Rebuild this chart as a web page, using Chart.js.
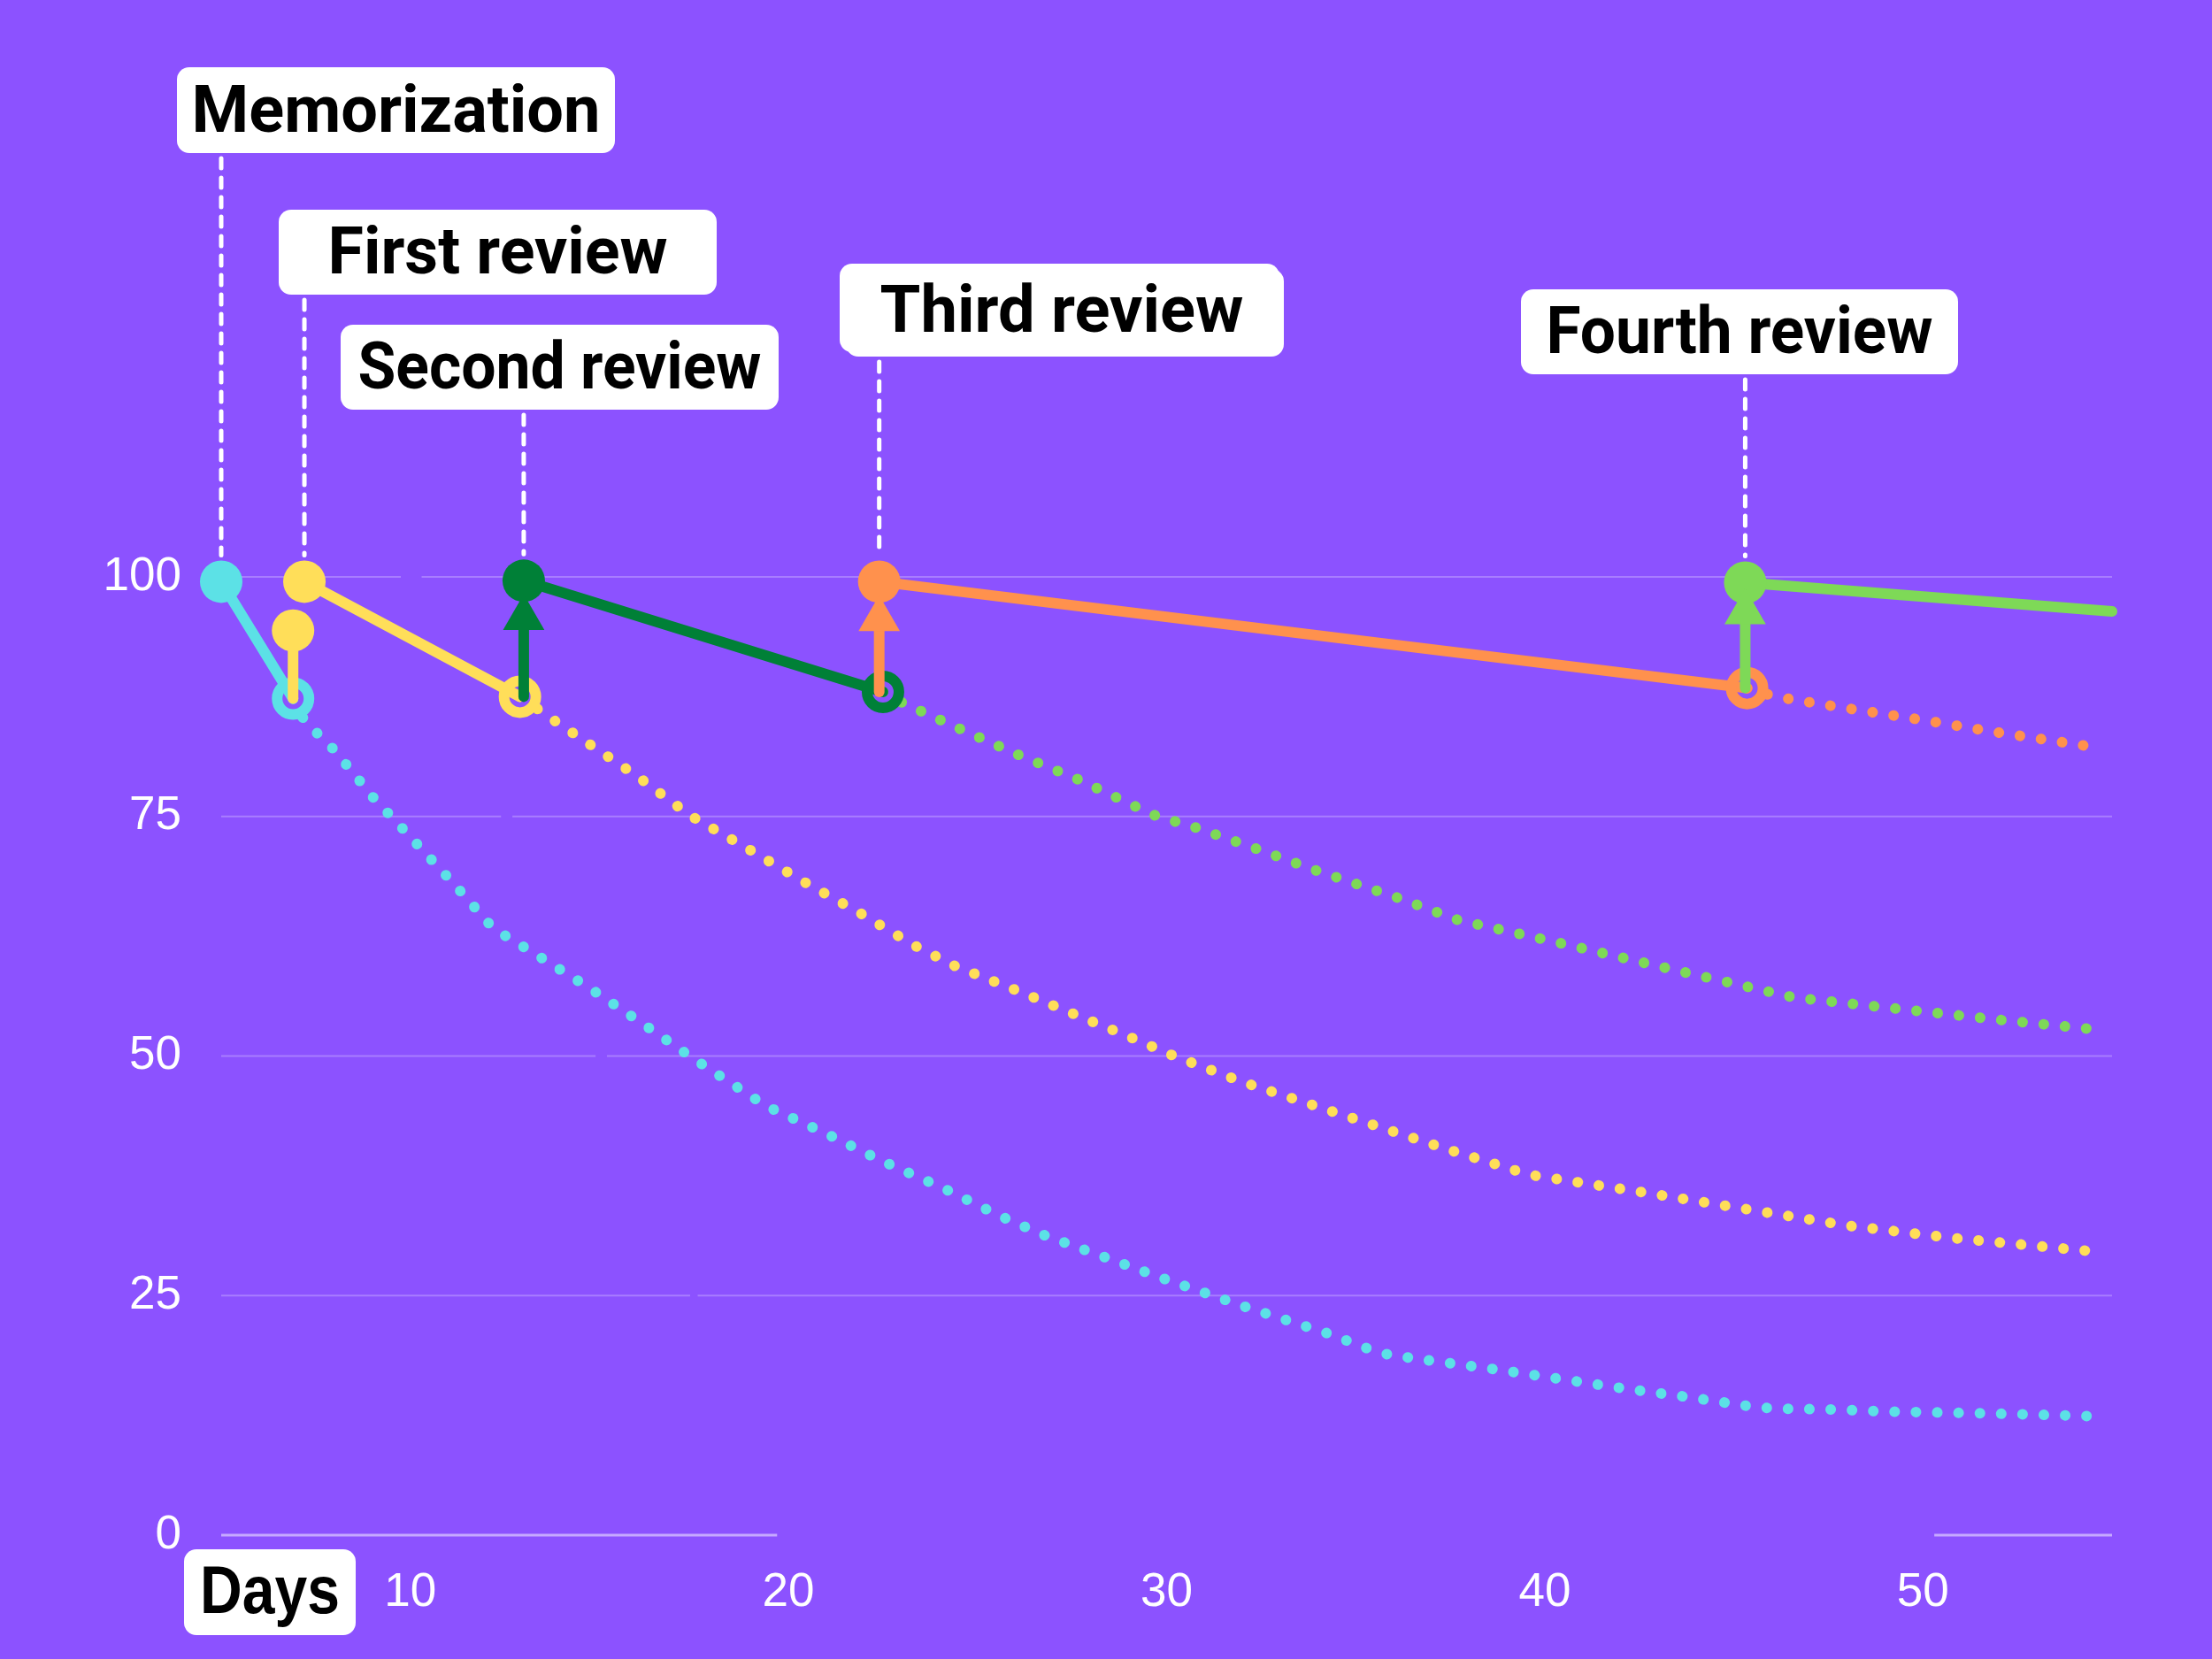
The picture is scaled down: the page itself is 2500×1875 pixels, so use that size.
<!DOCTYPE html>
<html>
<head>
<meta charset="utf-8">
<script src="https://cdn.jsdelivr.net/npm/chart.js@4.4.1/dist/chart.umd.min.js"></script>
<style>
html,body{margin:0;padding:0;background:#8C52FF;}
#wrap{width:2500px;height:1875px;position:relative;}
</style>
</head>
<body>
<div id="wrap"><canvas id="grafico"></canvas></div>
<script>

/* DATA */

const xTicks = [10, 20, 30, 40, 50];
const yTicks = [0, 25, 50, 75, 100];

const reviewNames = ["Memorization", "First review", "Second review", "Third review", "Fourth review"];

// day of each learning / review (retention back up) and where the solid segment ends
const peakDays = [5, 7.2, 13, 22.4, 45.3];
const peakValues = [99.5, 99.5, 99.6, 99.5, 99.4];
const dropDays = [6.9, 12.9, 22.5, 45.35, 55];
const dropValues = [87.3, 87.5, 88.0, 88.4, 96.4];

// review arrows (from the dropped value up)
const arrowDays = [6.9, 13, 22.4, 45.3];
const arrowFrom = [87.3, 87.5, 88.0, 88.4];
const arrowTo = [94.4, 95.7, 95.6, 96.3];

// forgetting curves without review (dotted)
const memDays = [6.9, 7.2, 8.0, 9.1, 9.5, 11.1, 12.2, 13.2, 14.7, 16.1, 17.5, 19.4, 21.0, 22.5, 24.1, 25.6, 26.7, 29.9, 31.0, 32.1, 33.2, 34.3, 35.3, 35.9, 37.0, 38.7, 40.4, 42.1, 43.8, 45.5, 46.1, 47.8, 49.0, 51.8, 54.6];
const memValues = [87.3, 85.0, 81.9, 76.6, 75.0, 68.2, 63.3, 60.9, 57.2, 53.5, 49.7, 44.8, 41.9, 39.0, 36.2, 33.3, 31.4, 26.8, 25.3, 23.8, 22.4, 21.0, 19.5, 18.8, 18.2, 17.3, 16.3, 15.3, 14.4, 13.4, 13.2, 13.1, 12.9, 12.7, 12.4];

const firstDays = [12.9, 13.7, 16.0, 17.4, 18.9, 20.4, 21.9, 23.3, 24.4, 26.0, 27.6, 29.2, 30.2, 32.0, 34.7, 37.4, 39.6, 42.4, 45.2, 48.0, 50.8, 54.8];
const firstValues = [87.5, 85.3, 79.2, 75.1, 71.7, 68.2, 64.9, 61.6, 59.4, 56.9, 54.3, 51.7, 50.0, 47.3, 43.8, 40.3, 37.6, 35.9, 34.1, 32.3, 31.0, 29.5];

const secondDays = [22.5, 23.0, 24.5, 26.1, 27.7, 29.2, 29.7, 30.8, 32.4, 34.0, 36.2, 37.7, 40.5, 43.3, 46.6, 49.4, 52.2, 54.5];
const secondValues = [88.0, 86.9, 84.2, 81.4, 78.8, 76.0, 75.1, 73.8, 71.6, 69.3, 66.4, 64.2, 61.7, 59.1, 56.1, 54.9, 53.7, 52.8];

const thirdDays = [45.35, 46.1, 47.8, 50.1, 51.75, 54.6];
const thirdValues = [88.4, 87.5, 86.4, 85.0, 83.9, 82.2];


/* STYLE */

const colors = ["#5CE1E6", "#FFDE59", "#008037", "#FF914D", "#7ED957"];
const decayColors = ["#5CE1E6", "#FFDE59", "#7ED957", "#FF914D"];

// label boxes (pixels) and the width their text takes
const labelBoxes = [
  {left: 200, top: 76, w: 495, h: 97, textW: 462},
  {left: 315, top: 237, w: 495, h: 96, textW: 384},
  {left: 385, top: 367, w: 495, h: 96, textW: 456},
  {left: 949, top: 298, w: 502, h: 105, textW: 411},
  {left: 1719, top: 327, w: 494, h: 96, textW: 437}
];

// small breaks seen in the grid lines (in days)
const gridGaps = {100: [9.75, 10.3], 75: [12.4, 12.7], 50: [14.9, 15.2], 25: [17.4, 17.6], 0: [19.7, 50.3]};

function pts(xs, ys){
  return xs.map(function(x, i){ return {x: x, y: ys[i]}; });
}

function roundBox(ctx, x, y, w, h, r){
  ctx.beginPath();
  ctx.moveTo(x + r, y);
  ctx.arcTo(x + w, y, x + w, y + h, r);
  ctx.arcTo(x + w, y + h, x, y + h, r);
  ctx.arcTo(x, y + h, x, y, r);
  ctx.arcTo(x, y, x + w, y, r);
  ctx.closePath();
  ctx.fill();
}


/* DATASETS */

const datasets = [];

// arrows on top
arrowDays.forEach(function(d, i){
  const first = i === 0;
  datasets.push({
    data: pts([d, d], [arrowFrom[i], arrowTo[i]]),
    borderColor: colors[i + 1],
    backgroundColor: colors[i + 1],
    borderWidth: 12,
    borderCapStyle: "round",
    pointStyle: first ? "circle" : "triangle",
    pointRadius: [0, first ? 24 : 27],
    pointBorderWidth: 0,
    pointBackgroundColor: colors[i + 1],
    clip: false,
    order: 0
  });
});

// solid segments
peakDays.forEach(function(d, i){
  const last = i === peakDays.length - 1;
  datasets.push({
    data: pts([d, dropDays[i]], [peakValues[i], dropValues[i]]),
    borderColor: colors[i],
    borderWidth: 12,
    borderCapStyle: "round",
    pointRadius: [24, last ? 0 : 18],
    pointBorderWidth: [0, 12],
    pointBorderColor: colors[i],
    pointBackgroundColor: [colors[i], "rgba(0,0,0,0)"],
    clip: false,
    order: 1
  });
});

// dotted forgetting curves
[[memDays, memValues], [firstDays, firstValues], [secondDays, secondValues], [thirdDays, thirdValues]].forEach(function(c, i){
  datasets.push({
    data: pts(c[0], c[1]),
    borderColor: decayColors[i],
    borderWidth: 12,
    borderDash: [0.1, 24],
    borderCapStyle: "round",
    pointRadius: 0,
    tension: 0,
    clip: false,
    order: 2
  });
});


/* PLUGIN: grid, leaders, labels */

const decor = {
  id: "decor",
  beforeDatasetsDraw: function(chart){
    const ctx = chart.ctx;
    const xs = chart.scales.x, ys = chart.scales.y;
    const area = chart.chartArea;
    ctx.save();
    yTicks.forEach(function(v){
      const py = ys.getPixelForValue(v);
      const gap = gridGaps[v];
      ctx.strokeStyle = v === 0 ? "rgba(255,255,255,0.5)" : "rgba(255,255,255,0.25)";
      ctx.lineWidth = v === 0 ? 3 : 2;
      ctx.beginPath();
      ctx.moveTo(area.left, py);
      ctx.lineTo(xs.getPixelForValue(gap[0]), py);
      ctx.moveTo(xs.getPixelForValue(gap[1]), py);
      ctx.lineTo(area.right, py);
      ctx.stroke();
    });
    // dashed leaders
    ctx.strokeStyle = "#ffffff";
    ctx.lineWidth = 5;
    ctx.lineCap = "round";
    ctx.setLineDash([11, 11]);
    peakDays.forEach(function(d, i){
      const b = labelBoxes[i];
      const px = xs.getPixelForValue(d);
      ctx.beginPath();
      ctx.moveTo(px, b.top + b.h + 6);
      ctx.lineTo(px, ys.getPixelForValue(peakValues[i]) - 30);
      ctx.stroke();
    });
    ctx.restore();
  },
  afterDraw: function(chart){
    const ctx = chart.ctx;
    ctx.save();
    ctx.fillStyle = "#ffffff";
    labelBoxes.forEach(function(b, i){
      if(i === 3){
        roundBox(ctx, b.left, b.top, b.w - 5, b.h - 5, 14);
        roundBox(ctx, b.left + 7, b.top + 6, b.w - 7, b.h - 6, 14);
      } else {
        roundBox(ctx, b.left, b.top, b.w, b.h, 14);
      }
    });
    ctx.fillStyle = "#000000";
    ctx.textAlign = "center";
    ctx.textBaseline = "alphabetic";
    ctx.font = "bold 75px Roboto";
    labelBoxes.forEach(function(b, i){
      ctx.fillText(reviewNames[i], b.left + b.w / 2, b.top + b.h / 2 + 24, b.textW);
    });
    // axis name box
    ctx.fillStyle = "#ffffff";
    roundBox(ctx, 208, 1751, 194, 97, 14);
    ctx.fillStyle = "#000000";
    ctx.font = "bold 76px 'Liberation Sans Narrow', 'Liberation Sans'";
    ctx.fillText("Days", 305, 1823, 158);
    ctx.restore();
  }
};


/* CHART */

new Chart(document.getElementById("grafico"), {
  type: "line",
  data: {datasets: datasets},
  options: {
    responsive: true,
    maintainAspectRatio: false,
    animation: false,
    layout: {padding: {top: 652, right: 113, bottom: 0, left: 0}},
    plugins: {
      legend: {display: false},
      tooltip: {enabled: false}
    },
    scales: {
      x: {
        type: "linear",
        min: 5,
        max: 55,
        grid: {display: false},
        border: {display: false},
        afterBuildTicks: function(s){ s.ticks = xTicks.map(function(v){ return {value: v}; }); },
        afterFit: function(s){ s.height = 140; },
        ticks: {
          color: "#ffffff",
          autoSkip: false,
          maxRotation: 0,
          padding: 26,
          font: {family: "'Liberation Sans'", size: 53}
        }
      },
      y: {
        min: 0,
        max: 100,
        grid: {display: false},
        border: {display: false},
        afterBuildTicks: function(s){ s.ticks = yTicks.map(function(v){ return {value: v}; }); },
        afterFit: function(s){ s.width = 250; },
        ticks: {
          color: "#ffffff",
          padding: 37,
          font: {family: "'Liberation Sans'", size: 53}
        }
      }
    }
  },
  plugins: [decor]
});

</script>
</body>
</html>
